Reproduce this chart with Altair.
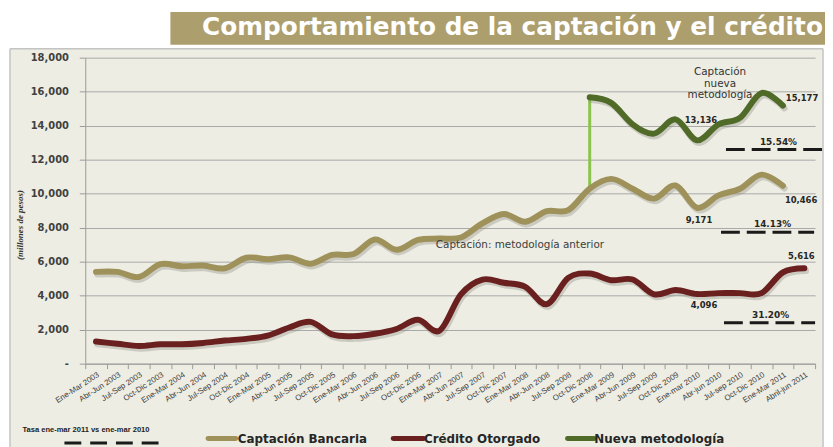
import altair as alt
import pandas as pd

cats = ["Ene-Mar 2003", "Abr-Jun 2003", "Jul-Sep 2003", "Oct-Dic 2003",
        "Ene-Mar 2004", "Abr-Jun 2004", "Jul-Sep 2004", "Oct-Dic 2004",
        "Ene-Mar 2005", "Abr-Jun 2005", "Jul-Sep 2005", "Oct-Dic 2005",
        "Ene-Mar 2006", "Abr-Jun 2006", "Jul-Sep 2006", "Oct-Dic 2006",
        "Ene-Mar 2007", "Abr-Jun 2007", "Jul-Sep 2007", "Oct-Dic 2007",
        "Ene-Mar 2008", "Abr-Jun 2008", "Jul-Sep 2008", "Oct-Dic 2008",
        "Ene-Mar 2009", "Abr-Jun 2009", "Jul-Sep 2009", "Oct-Dic 2009",
        "Ene-mar 2010", "Abr-jun 2010", "Jul-sep 2010", "Oct-Dic 2010",
        "Ene-Mar 2011", "Abril-jun 2011"]

captacion = [5400, 5400, 5100, 5850, 5730, 5770, 5610, 6230, 6150, 6250, 5880, 6400,
             6450, 7300, 6700, 7280, 7360, 7420, 8250, 8800, 8350, 8970, 9030, 10300,
             10870, 10290, 9710, 10480, 9171, 9900, 10290, 11120, 10466]
credito = [1300, 1170, 1040, 1140, 1140, 1220, 1360, 1460, 1650, 2130, 2460, 1720,
           1620, 1760, 2040, 2580, 1940, 4080, 4950, 4760, 4520, 3500, 5050, 5300,
           4910, 4950, 4080, 4330, 4096, 4150, 4150, 4150, 5374, 5616]
nueva_start = 23
nueva = [15670, 15340, 14080, 13530, 14370, 13136, 14080, 14460, 15920, 15177]

series = ["Captación Bancaria", "Crédito Otorgado", "Nueva metodología"]
colors = ["#9E915A", "#6B2020", "#506A28"]

rows = []
for i, v in enumerate(captacion):
    rows.append({"cat": cats[i], "serie": series[0], "valor": v})
for i, v in enumerate(credito):
    rows.append({"cat": cats[i], "serie": series[1], "valor": v})
for j, v in enumerate(nueva):
    rows.append({"cat": cats[nueva_start + j], "serie": series[2], "valor": v})
df = pd.DataFrame(rows)

BG = "#EDEDE3"
one = pd.DataFrame({"d": [0]})

xscale = alt.Scale(domain=cats, type="band", paddingInner=0, paddingOuter=0)
yscale = alt.Scale(domain=[0, 18000], nice=False)

xaxis = alt.Axis(labelAngle=-33, labelFont="Liberation Sans", labelFontSize=8,
                 labelColor="#404040", tickBand="extent", tickSize=5,
                 tickColor="#9A9A9A", domainColor="#9A9A9A", labelPadding=2,
                 labelOverlap=False, grid=False, title=None)
yaxis = alt.Axis(values=list(range(0, 18001, 2000)),
                 labelExpr="datum.value == 0 ? '-' : format(datum.value, ',')",
                 labelFont="DejaVu Sans", labelFontSize=10, labelFontWeight="bold",
                 labelColor="#404040", tickSize=6, tickColor="#9A9A9A",
                 domainColor="#9A9A9A", labelPadding=11, grid=True,
                 gridColor="#A8A8A8", gridWidth=1, labelOverlap=False,
                 labelFlush=False, title=None)


def xq(field="cat:N"):
    return alt.X(field, scale=xscale, axis=xaxis, title=None)


def yq(field):
    return alt.Y(field, scale=yscale, axis=yaxis, title=None)


def deco_rect(x, x2, y, y2, fill):
    return alt.Chart(one).mark_rect(fill=fill).encode(
        x=alt.value(x), x2=alt.value(x2), y=alt.value(y), y2=alt.value(y2))


def deco_rule(x, x2, y, y2, color, width, dash=None, cap="butt"):
    kw = dict(color=color, strokeWidth=width, strokeCap=cap)
    if dash:
        kw["strokeDash"] = dash
    return alt.Chart(one).mark_rule(**kw).encode(
        x=alt.value(x), x2=alt.value(x2), y=alt.value(y), y2=alt.value(y2))


def deco_text(x, y, txt, size, weight="normal", color="#333333", align="center",
              font="DejaVu Sans", angle=0, style="normal", baseline="middle"):
    kw = dict(text=txt, fontSize=size, fontWeight=weight, color=color, align=align,
              font=font, baseline=baseline, fontStyle=style)
    if angle:
        kw["angle"] = angle
    return alt.Chart(one).mark_text(**kw).encode(x=alt.value(x), y=alt.value(y))


lines = alt.Chart(df).mark_line(interpolate="cardinal", strokeWidth=6, strokeCap="round",
                                strokeJoin="round").encode(
    x=xq(), y=yq("valor:Q"),
    color=alt.Color("serie:N", scale=alt.Scale(domain=series, range=colors), legend=None),
    detail="serie:N")

shadow = alt.Chart(df).mark_line(interpolate="cardinal", strokeWidth=6.5, strokeCap="round",
                                 strokeJoin="round", color="#8A8A80", opacity=0.35,
                                 xOffset=1.5, yOffset=2.5).encode(
    x=xq(), y=yq("valor:Q"), detail="serie:N")

conn = pd.DataFrame({"cat": [cats[nueva_start]], "lo": [captacion[nueva_start]],
                     "hi": [nueva[0]]})
connector = alt.Chart(conn).mark_rule(color="#8CC34B", strokeWidth=3).encode(
    x=xq(), y=yq("lo:Q"), y2="hi:Q")

layers = [
    deco_rect(-80, 750, -60, -9, "white"),
    deco_rect(-80, -76, -9, 400, "white"),
    deco_rect(745, 750, -9, 400, "white"),
    deco_rule(-76, -76, -9, 400, "#C4C4C4", 1.5),
    deco_rule(-76, 745, -9, -9, "#C4C4C4", 1.5),
    deco_rule(745, 745, -9, 400, "#C4C4C4", 1.5),
    deco_rect(86, 750, -46, -13, "#AD9E6D"),
    deco_text(118, -23, "Comportamiento de la captación y el crédito", 25, "bold", "white",
              align="left", baseline="alphabetic"),
    connector,
    shadow,
    lines,
]


def value_label(idx, val, dx, dy, align="center"):
    d = pd.DataFrame({"cat": [cats[idx]], "valor": [val], "txt": [format(val, ",")]})
    return alt.Chart(d).mark_text(font="DejaVu Sans", fontSize=8.5, fontWeight="bold",
                                  color="#262626", dx=dx, dy=dy, align=align,
                                  baseline="middle").encode(
        x=xq(), y=yq("valor:Q"), text="txt:N")


layers += [
    value_label(32, nueva[9], 3, -7.5, "left"),
    value_label(28, nueva[5], 4, -21),
    value_label(32, captacion[32], 2, 14, "left"),
    value_label(28, captacion[28], 2, 12),
    value_label(33, credito[33], -3, -12),
    value_label(28, credito[28], 7, 11),
]

layers += [
    deco_text(641, 14.7, "Captación", 10.5),
    deco_text(641, 26.3, "nueva", 10.5),
    deco_text(641, 37.3, "metodología", 10.5),
    deco_text(354, 189, "Captación: metodología anterior", 10.5, color="#3C3C3C", align="left"),
    deco_text(700, 84.7, "15.54%", 9, "bold", "#262626"),
    deco_rule(647, 745, 92.7, 92.7, "#1A1A1A", 3, [19, 7]),
    deco_text(694, 168.3, "14.13%", 9, "bold", "#262626"),
    deco_rule(642, 736, 176.3, 176.3, "#1A1A1A", 3, [19, 7]),
    deco_text(692, 259.7, "31.20%", 9, "bold", "#262626"),
    deco_rule(645, 737, 267.7, 267.7, "#1A1A1A", 3, [19, 7]),
    deco_text(-66, 169, "(millones de pesos)", 9, "bold", "#333333",
              font="Liberation Sans Narrow", angle=270, style="italic"),
]

layers += [
    deco_text(-63.3, 376.3, "Tasa ene-mar 2011 vs ene-mar 2010", 7.6, "bold", "#222222",
              align="left", font="Liberation Sans"),
    deco_rule(-21, 74, 389, 389, "#1A1A1A", 3, [17, 9]),
    deco_rule(124, 152, 384.5, 384.5, colors[0], 5, cap="round"),
    deco_text(154, 385, series[0], 12, "bold", "#262626", align="left"),
    deco_rule(311, 342, 384.5, 384.5, colors[1], 5, cap="round"),
    deco_text(342, 385, series[1], 12, "bold", "#262626", align="left"),
    deco_rule(487, 514, 384.5, 384.5, colors[2], 5, cap="round"),
    deco_text(514, 385, series[2], 12, "bold", "#262626", align="left"),
]

chart = alt.layer(*layers).properties(
    width=737, height=309,
    padding={"left": 78, "top": 48, "right": 10, "bottom": 82},
    autosize=alt.AutoSizeParams(type="none"),
).configure(background=BG).configure_view(stroke=None)

chart.save("out.html", embed_options={"renderer": "svg", "actions": False})
